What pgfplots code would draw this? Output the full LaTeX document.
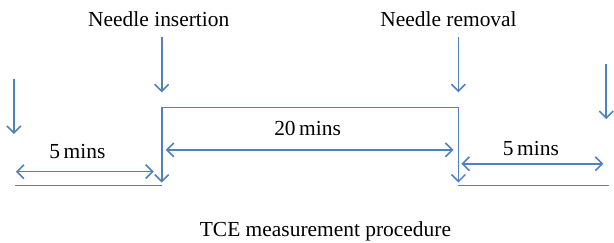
\documentclass[border=0pt]{standalone}
\usepackage{fontspec}
\setmainfont{Liberation Serif}
\usepackage{pgfplots}
\pgfplotsset{compat=1.18}
\usetikzlibrary{arrows.meta}
\definecolor{lblue}{HTML}{4F81BD}
\begin{document}
\begin{tikzpicture}
\begin{axis}[
  width=307pt, height=122pt, scale only axis,
  xmin=0, xmax=614, ymin=0, ymax=244, y dir=reverse,
  hide axis, clip=false,
]
\addplot[draw=none] coordinates {(0,0) (614,244)};
% vertical arrows
\addplot[lblue, line width=0.8pt, -{Straight Barb[length=3.5pt,width=7pt]}] coordinates {(14,80) (14,135)};
\addplot[lblue, line width=0.8pt, -{Straight Barb[length=3.5pt,width=7pt]}] coordinates {(163,37) (163,93)};
\addplot[lblue, line width=0.8pt, -{Straight Barb[length=3.5pt,width=7pt]}] coordinates {(462,37) (462,93)};
\addplot[lblue, line width=0.8pt, -{Straight Barb[length=3.5pt,width=7pt]}] coordinates {(611,65) (611,120)};
% box
\addplot[lblue, line width=0.8pt, -{Straight Barb[length=3.5pt,width=7pt]}] coordinates {(163,108.5) (163,184)};
\addplot[lblue, line width=0.8pt, -{Straight Barb[length=3.5pt,width=7pt]}] coordinates {(462,108.5) (462,184)};
\addplot[lblue, line width=0.8pt] coordinates {(162.6,108.5) (462.4,108.5)};
% baselines
\addplot[lblue, line width=0.8pt] coordinates {(15,187) (163,187)};
\addplot[lblue, line width=0.8pt] coordinates {(462,187) (614,187)};
% double arrows
\addplot[lblue, line width=0.8pt, {Straight Barb[length=3.5pt,width=7pt]}-{Straight Barb[length=3.5pt,width=7pt]}] coordinates {(16,173) (155,173)};
\addplot[lblue, line width=0.8pt, {Straight Barb[length=3.5pt,width=7pt]}-{Straight Barb[length=3.5pt,width=7pt]}] coordinates {(167,151) (457,151)};
\addplot[lblue, line width=0.8pt, {Straight Barb[length=3.5pt,width=7pt]}-{Straight Barb[length=3.5pt,width=7pt]}] coordinates {(465,165) (608,165)};
% texts
\node[anchor=base, font=\fontsize{10.8}{12}\selectfont, inner sep=0pt] at (axis cs:160,27) {Needle insertion};
\node[anchor=base, font=\fontsize{10.8}{12}\selectfont, inner sep=0pt] at (axis cs:452,27) {Needle removal};
\node[anchor=base, font=\fontsize{10.8}{12}\selectfont, inner sep=0pt] at (axis cs:78,160) {5\,mins};
\node[anchor=base, font=\fontsize{10.8}{12}\selectfont, inner sep=0pt] at (axis cs:310,137) {20\,mins};
\node[anchor=base, font=\fontsize{10.8}{12}\selectfont, inner sep=0pt] at (axis cs:535,157) {5\,mins};
\node[anchor=base, font=\fontsize{10.8}{12}\selectfont, inner sep=0pt] at (axis cs:328,238) {TCE measurement procedure};
\end{axis}
\end{tikzpicture}
\end{document}
